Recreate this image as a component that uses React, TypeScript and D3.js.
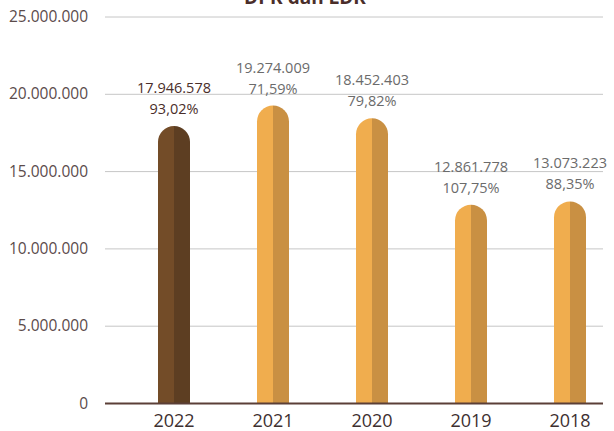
import React from "react";
import * as d3 from "d3";

const years = ["2022", "2021", "2020", "2019", "2018"];
const dpk = [17946578, 19274009, 18452403, 12861778, 13073223];
const dpkLabels = ["17.946.578", "19.274.009", "18.452.403", "12.861.778", "13.073.223"];
const ldrLabels = ["93,02%", "71,59%", "79,82%", "107,75%", "88,35%"];
const yTicks = [0, 5000000, 10000000, 15000000, 20000000, 25000000];
const yTickLabels = ["0", "5.000.000", "10.000.000", "15.000.000", "20.000.000", "25.000.000"];
const title = "DPK dan LDR";

const W = 614;
const H = 431;
const FONT = "'Open Sans', 'Noto Sans', sans-serif";

export default function App() {
  const y = d3.scaleLinear().domain([0, 25000000]).range([403.5, 17]);
  const x = d3.scalePoint<string>().domain(years).range([174, 570]);
  const r = 16;

  return (
    <svg width={W} height={H} style={{ position: "absolute", left: 0, top: 0 }}>
      <rect width={W} height={H} fill="#fff" />
      <text x={305} y={4} textAnchor="middle" fontFamily={FONT} fontWeight="bold" fontSize={19} fill="#4a2e2a">
        {title}
      </text>
      {yTicks.map((t, i) => (
        <g key={t}>
          {t > 0 && <line x1={105} x2={603} y1={y(t)} y2={y(t)} stroke="#c6c6c6" strokeWidth={1} />}
          <text x={88} y={y(t) + 5} textAnchor="end" fontFamily={FONT} fontSize={15.5} fill="#5b4b4b">
            {yTickLabels[i]}
          </text>
        </g>
      ))}
      {years.map((yr, i) => {
        const cx = x(yr)!;
        const top = y(dpk[i]);
        const base = y(0);
        const x0 = cx - r;
        const x1 = cx + r;
        const first = i === 0;
        const cl = first ? "#734c28" : "#f0ad4e";
        const cr = first ? "#5d3e22" : "#c99043";
        const left = `M${cx},${base} L${x0},${base} L${x0},${top + r} A${r},${r} 0 0 1 ${cx},${top} Z`;
        const right = `M${cx},${top} A${r},${r} 0 0 1 ${x1},${top + r} L${x1},${base} L${cx},${base} Z`;
        const lc = first ? "#4a2e2a" : "#6b6b6b";
        return (
          <g key={yr}>
            <path d={left} fill={cl} />
            <path d={right} fill={cr} />
            <text x={cx} y={top - 12} textAnchor="middle" fontFamily={FONT} fontSize={14.5} fill={lc}>
              {ldrLabels[i]}
            </text>
            <text x={cx} y={top - 33} textAnchor="middle" fontFamily={FONT} fontSize={14.5} fill={lc}>
              {dpkLabels[i]}
            </text>
            <text x={cx} y={427} textAnchor="middle" fontFamily={FONT} fontSize={18} fill="#3e3030">
              {yr}
            </text>
          </g>
        );
      })}
      <line x1={105} x2={603} y1={y(0)} y2={y(0)} stroke="#5b3f37" strokeWidth={2} />
    </svg>
  );
}
